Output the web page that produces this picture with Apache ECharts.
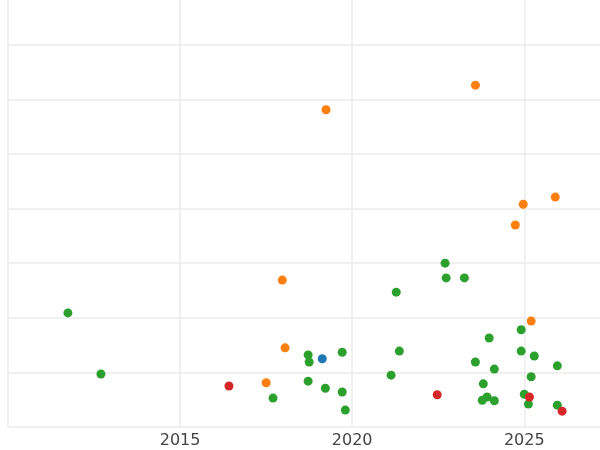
<!DOCTYPE html>
<html>
<head>
<meta charset="utf-8">
<script src="https://cdn.jsdelivr.net/npm/echarts@6/dist/echarts.min.js"></script>
<style>html,body{margin:0;padding:0;background:#fff}#main{width:600px;height:450px}</style>
</head>
<body>
<div id="main"></div>
<script>
// [year, value]
const orangePts = [[2019.24,5.81],[2023.58,6.26],[2025.90,4.21],[2024.97,4.08],[2024.74,3.70],
  [2017.97,2.69],[2025.20,1.94],[2018.05,1.45],[2017.50,0.81]]
const bluePts = [[2019.13,1.25]]
const redPts = [[2016.42,0.75],[2022.47,0.59],[2025.15,0.55],[2026.10,0.29]]
const greenPts = [[2011.74,2.09],[2012.70,0.97],[2017.70,0.53],[2018.72,1.32],[2018.75,1.19],
  [2018.72,0.84],[2019.22,0.71],[2019.71,1.37],[2019.71,0.64],[2019.80,0.31],[2021.13,0.95],
  [2021.28,2.47],[2021.37,1.39],[2022.70,3.00],[2022.73,2.73],[2023.26,2.73],[2023.58,1.19],
  [2023.81,0.79],[2023.78,0.49],[2023.92,0.55],[2023.98,1.63],[2024.13,1.06],[2024.13,0.48],
  [2024.91,1.78],[2024.91,1.39],[2025.00,0.60],[2025.12,0.42],[2025.20,0.92],[2025.29,1.30],
  [2025.96,1.12],[2025.96,0.40]]

const chart = echarts.init(document.getElementById('main'))
const mk = (data, color) => ({
  type: 'scatter', data: data, symbolSize: 9,
  itemStyle: { color: color, opacity: 1 }
})
chart.setOption({
  backgroundColor: '#fff',
  animation: false,
  grid: { left: 8, right: 0, top: 0, bottom: 23, containLabel: false, outerBoundsMode: 'none' },
  xAxis: {
    type: 'value', min: 2010, max: 2027.2, interval: 5,
    axisLine: { show: false }, axisTick: { show: false },
    splitLine: { showMaxLine: false, lineStyle: { color: '#ebebeb', width: 1.5 } },
    axisLabel: { color: '#444', fontSize: 16, fontFamily: 'DejaVu Sans', margin: 6,
      showMinLabel: false, showMaxLabel: false,
      formatter: v => (v % 5 === 0 && v !== 2010 ? v : '') }
  },
  yAxis: {
    type: 'value', min: 0, max: 7.82, interval: 1,
    axisLine: { show: false }, axisTick: { show: false }, axisLabel: { show: false },
    splitLine: { showMaxLine: false, lineStyle: { color: '#ebebeb', width: 1.5 } }
  },
  series: [
    mk(greenPts, '#2ca02c'),
    mk(orangePts, '#ff7f0e'),
    mk(bluePts, '#1f77b4'),
    mk(redPts, '#d62728')
  ]
})
</script>
</body>
</html>
